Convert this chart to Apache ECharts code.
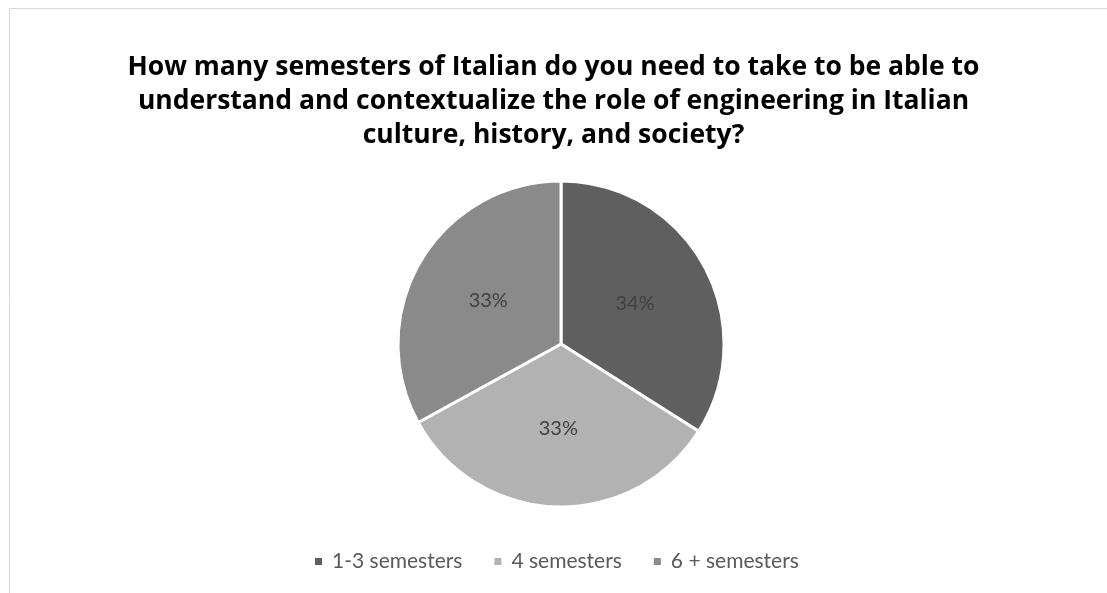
<!DOCTYPE html>
<html>
<head>
<meta charset="utf-8">
<script src="https://cdn.jsdelivr.net/npm/echarts@6/dist/echarts.min.js"></script>
<style>
  html, body { margin: 0; padding: 0; background: #fff; }
  #chart { width: 1107px; height: 593px; }
</style>
</head>
<body>
<div id="chart"></div>
<script>
// answers and their share of respondents (%)
const categories = ["1-3 semesters", "4 semesters", "6 + semesters"];
const shares = [34, 33, 33];
const sliceColors = ["#5f5f5f", "#b2b2b2", "#8a8a8a"];

const titleText =
  "How many semesters of Italian do you need to take to be able to\n" +
  "understand and contextualize the role of engineering in Italian\n" +
  "culture, history, and society?";

const chart = echarts.init(document.getElementById("chart"));

chart.setOption({
  animation: false,
  color: sliceColors,
  graphic: [
    {
      type: "rect",
      shape: { x: 9.5, y: 8.5, width: 1200, height: 700 },
      style: { fill: "none", stroke: "#d9d9d9", lineWidth: 1 },
      silent: true,
    },
  ],
  title: {
    text: titleText,
    left: "center",
    top: 45,
    textStyle: {
      fontFamily: "Open Sans",
      fontWeight: "bold",
      fontSize: 26.5,
      lineHeight: 34,
      color: "#000",
    },
  },
  legend: {
    bottom: 16,
    left: 308,
    itemWidth: 9,
    itemHeight: 9,
    itemGap: 30,
    icon: "rect",
    textStyle: {
      fontFamily: "Lato",
      fontSize: 21,
      color: "#595959",
      padding: [0, 0, 0, 4],
    },
    data: categories,
  },
  series: [
    {
      type: "pie",
      center: [561, 344],
      radius: 163,
      startAngle: 90,
      clockwise: true,
      itemStyle: { borderColor: "#fff", borderWidth: 3 },
      label: {
        position: "inside",
        formatter: "{d}%",
        fontFamily: "Lato",
        fontSize: 20,
        color: "#404040",
      },
      labelLine: { show: false },
      emphasis: { disabled: true },
      data: categories.map((name, i) => ({ name, value: shares[i] })),
    },
  ],
});
</script>
</body>
</html>
